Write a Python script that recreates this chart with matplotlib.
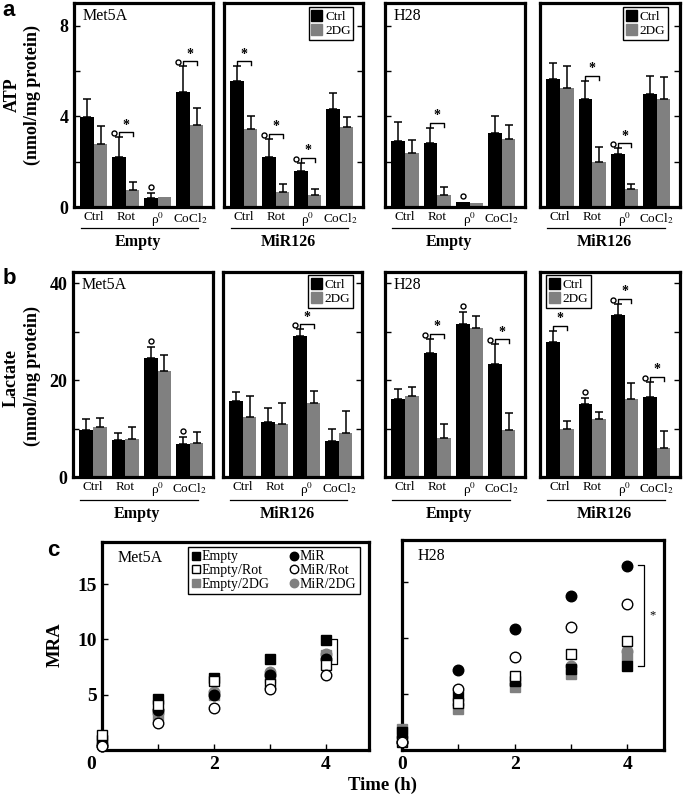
import numpy as np
import matplotlib
matplotlib.use("Agg")
import matplotlib.pyplot as plt
from matplotlib.patches import Patch
from matplotlib.lines import Line2D
from matplotlib.transforms import ScaledTranslation

plt.rcParams['font.family'] = ['Liberation Serif', 'DejaVu Serif']
plt.rcParams['mathtext.fontset'] = 'stix'

# ---------------- data ----------------
categories = ['Ctrl', 'Rot', 'ρ$^{0}$', 'CoCl$_2$']
groups = ['Empty', 'MiR126', 'Empty', 'MiR126']
cells = ['Met5A', '', 'H28', '']

# ATP (nmol/mg protein)
atp_met_empty_ctrl = [3.95, 2.22, 0.38, 5.07]
atp_met_empty_ctrl_err = [0.80, 0.85, 0.22, 1.13]
atp_met_empty_2dg = [2.76, 0.73, 0.42, 3.60]
atp_met_empty_2dg_err = [0.81, 0.37, 0.0, 0.78]
atp_met_mir_ctrl = [5.54, 2.22, 1.60, 4.34]
atp_met_mir_ctrl_err = [0.66, 0.80, 0.36, 0.70]
atp_met_mir_2dg = [3.42, 0.66, 0.53, 3.55]
atp_met_mir_2dg_err = [0.58, 0.36, 0.26, 0.40]
atp_h28_empty_ctrl = [2.92, 2.84, 0.22, 3.25]
atp_h28_empty_ctrl_err = [0.81, 0.65, 0.0, 0.77]
atp_h28_empty_2dg = [2.38, 0.53, 0.16, 2.98]
atp_h28_empty_2dg_err = [0.57, 0.35, 0.0, 0.62]
atp_h28_mir_ctrl = [5.66, 4.75, 2.34, 4.97]
atp_h28_mir_ctrl_err = [0.71, 0.81, 0.25, 0.79]
atp_h28_mir_2dg = [5.25, 1.97, 0.79, 4.75]
atp_h28_mir_2dg_err = [0.95, 0.69, 0.23, 0.98]

# Lactate (nmol/mg protein)
lac_met_empty_ctrl = [9.8, 7.6, 24.5, 6.9]
lac_met_empty_ctrl_err = [2.1, 1.4, 2.4, 1.4]
lac_met_empty_2dg = [10.3, 7.9, 21.9, 7.1]
lac_met_empty_2dg_err = [1.9, 2.4, 3.3, 2.1]
lac_met_mir_ctrl = [15.7, 11.4, 29.0, 7.4]
lac_met_mir_ctrl_err = [1.9, 2.9, 1.5, 2.6]
lac_met_mir_2dg = [12.3, 11.0, 15.2, 9.0]
lac_met_mir_2dg_err = [4.5, 4.2, 2.6, 4.7]
lac_h28_empty_ctrl = [16.1, 25.5, 31.6, 23.4]
lac_h28_empty_ctrl_err = [2.0, 3.0, 2.5, 4.0]
lac_h28_empty_2dg = [16.8, 8.1, 30.8, 9.7]
lac_h28_empty_2dg_err = [1.7, 2.8, 2.4, 3.5]
lac_h28_mir_ctrl = [27.9, 15.0, 33.4, 16.6]
lac_h28_mir_ctrl_err = [2.3, 1.2, 2.3, 3.1]
lac_h28_mir_2dg = [9.9, 11.9, 16.1, 5.9]
lac_h28_mir_2dg_err = [1.7, 1.6, 3.2, 3.5]

# significance marks: (category index, kind) o=circle, b=bracket+star
atp_sig = [[(1, 'ob'), (2, 'o'), (3, 'ob')],
           [(0, 'b'), (1, 'ob'), (2, 'ob')],
           [(1, 'b'), (2, 'o')],
           [(1, 'b'), (2, 'ob')]]
lac_sig = [[(2, 'o'), (3, 'o')],
           [(2, 'ob')],
           [(1, 'ob'), (2, 'o'), (3, 'ob')],
           [(0, 'b'), (1, 'o'), (2, 'ob'), (3, 'ob')]]

# MRA time course
time_h = [0, 1, 2, 3, 4]
mra_labels = ['Empty', 'Empty/Rot', 'Empty/2DG', 'MiR', 'MiR/Rot', 'MiR/2DG']
met_empty = [0.9, 4.6, 6.5, 8.2, 9.9]
met_empty_rot = [1.35, 4.1, 6.2, 6.0, 7.65]
met_empty_2dg = [0.9, 3.1, 5.0, 6.5, 8.55]
met_mir = [0.4, 3.6, 4.95, 6.75, 8.25]
met_mir_rot = [0.4, 2.45, 3.8, 5.55, 6.75]
met_mir_2dg = [0.5, 3.3, 5.2, 7.05, 8.7]
h28_empty = [1.6, 4.85, 6.2, 7.25, 7.55]
h28_empty_rot = [0.75, 4.25, 6.65, 8.6, 9.8]
h28_empty_2dg = [1.9, 3.65, 5.6, 6.8, 8.45]
h28_mir = [0.75, 7.2, 10.8, 13.75, 16.5]
h28_mir_rot = [0.7, 5.45, 8.35, 11.05, 13.05]
h28_mir_2dg = [1.2, 4.1, 5.9, 7.5, 8.9]

# ---------------- layout ----------------
W, H = 683, 796
fig = plt.figure(figsize=(W / 100, H / 100), dpi=100)
GRAY = '#808080'
SPW = 2.3


def ax_at(x0, y0, x1, y1):
    return fig.add_axes([x0 / W, 1 - y1 / H, (x1 - x0) / W, (y1 - y0) / H])


def ftext(x, y, s, **kw):
    fig.text(x / W, 1 - y / H, s, **kw)


def fline(x0, x1, y):
    fig.add_artist(Line2D([x0 / W, x1 / W], [1 - y / H, 1 - y / H],
                          transform=fig.transFigure, color='black', lw=0.9))


def style_box(ax):
    for s in ax.spines.values():
        s.set_linewidth(SPW)


XLIM_BAR = (-0.62, 3.72)


def bar_box(box, ctrl, ctrl_e, dg, dg_e, ylim, yt, ylab, side, show_labels,
            cell, legend, sig, group, grp_y):
    ax = ax_at(*box)
    x0p, y0p, x1p, y1p = box
    ypx = (ylim[1] - ylim[0]) / (y1p - y0p)      # data units per pixel (y)
    xpx = (XLIM_BAR[1] - XLIM_BAR[0]) / (x1p - x0p)
    x = np.arange(4)
    w = 0.42
    ctrl = np.array(ctrl); dg = np.array(dg)
    ctrl_e = np.array(ctrl_e); dg_e = np.array(dg_e)
    ax.bar(x - w / 2, ctrl, w, color='black', zorder=2)
    ax.bar(x + w / 2, dg, w, color=GRAY, zorder=2)
    for xs, v, e in [(x - w / 2, ctrl, ctrl_e), (x + w / 2, dg, dg_e)]:
        m = e > 0
        ax.errorbar(xs[m], v[m], yerr=[np.zeros(m.sum()), e[m]], fmt='none',
                    ecolor='black', elinewidth=1.1, capsize=3, capthick=1.1,
                    zorder=3)
    ax.set_xlim(*XLIM_BAR)
    ax.set_ylim(*ylim)
    ax.set_xticks(x)
    ax.set_xticklabels(categories, fontsize=9.5)
    ax.tick_params(axis='x', length=0, pad=3)
    ax.set_yticks(yt)
    if side == 'left':
        ax.tick_params(axis='y', direction='in', length=4, width=1, pad=4,
                       left=True, right=False)
    else:
        ax.tick_params(axis='y', direction='in', length=4, width=1,
                       left=False, right=True)
    if show_labels:
        ax.set_yticklabels(ylab, fontsize=13, fontweight='bold')
    else:
        ax.tick_params(axis='y', labelleft=False, labelright=False)
    style_box(ax)
    if cell:
        ax.text(0.06, 0.975, cell, transform=ax.transAxes, ha='left',
                va='top', fontsize=11.5)
    if legend is not None:
        loc, anchor = legend
        lg = ax.legend([Patch(color='black'), Patch(color=GRAY)],
                       ['Ctrl', '2DG'], loc=loc, bbox_to_anchor=anchor,
                       fontsize=9.5, handlelength=0.85, handleheight=0.9,
                       handletextpad=0.2, borderpad=0.2, labelspacing=0.1,
                       borderaxespad=0, fancybox=False, framealpha=1,
                       edgecolor='black')
        lg.get_frame().set_linewidth(1.0)
    # significance marks
    for i, kind in sig:
        tb = ctrl[i] + ctrl_e[i]
        tg = dg[i] + dg_e[i]
        xb, xg = i - w / 2, i + w / 2
        if 'b' in kind:
            yb = max(tb, tg) + 5 * ypx
            yl = yb - 4 * ypx
            ax.plot([xb, xb, xg, xg], [yl, yb, yb, yl], color='black',
                    lw=1.0, zorder=4, clip_on=False)
            ax.text((xb + xg) / 2, yb + 0.5 * ypx, '*', ha='center',
                    va='bottom', fontsize=10, fontweight='bold')
            if 'o' in kind:
                ax.plot([xb - 5 * xpx], [yb - 1 * ypx], 'o', ms=3.6,
                        mfc='white', mec='black', mew=1.0, clip_on=False,
                        zorder=5)
        else:
            ax.plot([xb], [tb + 6 * ypx], 'o', ms=3.6, mfc='white',
                    mec='black', mew=1.0, clip_on=False, zorder=5)
    # group underline and label
    bw = x1p - x0p
    fline(x0p + 0.05 * bw, x0p + 0.89 * bw, grp_y)
    ftext(x0p + 0.46 * bw, grp_y + 14, group, ha='center', va='center',
          fontsize=11.5, fontweight='bold')
    return ax


boxes_a = [(74, 3, 213, 207), (224, 3, 363, 207), (385, 3, 525, 207),
           (540, 3, 680, 207)]
boxes_b = [(73, 272, 213, 477), (223, 272, 362, 477), (385, 272, 525, 477),
           (540, 272, 680, 477)]

atp_data = [
    (atp_met_empty_ctrl, atp_met_empty_ctrl_err, atp_met_empty_2dg, atp_met_empty_2dg_err),
    (atp_met_mir_ctrl, atp_met_mir_ctrl_err, atp_met_mir_2dg, atp_met_mir_2dg_err),
    (atp_h28_empty_ctrl, atp_h28_empty_ctrl_err, atp_h28_empty_2dg, atp_h28_empty_2dg_err),
    (atp_h28_mir_ctrl, atp_h28_mir_ctrl_err, atp_h28_mir_2dg, atp_h28_mir_2dg_err),
]
lac_data = [
    (lac_met_empty_ctrl, lac_met_empty_ctrl_err, lac_met_empty_2dg, lac_met_empty_2dg_err),
    (lac_met_mir_ctrl, lac_met_mir_ctrl_err, lac_met_mir_2dg, lac_met_mir_2dg_err),
    (lac_h28_empty_ctrl, lac_h28_empty_ctrl_err, lac_h28_empty_2dg, lac_h28_empty_2dg_err),
    (lac_h28_mir_ctrl, lac_h28_mir_ctrl_err, lac_h28_mir_2dg, lac_h28_mir_2dg_err),
]
sides = ['left', 'right', 'left', 'right']
leg_a = [None, ('upper right', (0.93, 0.98)), None, ('upper right', (0.915, 0.98))]
leg_b = [None, ('upper right', (0.935, 0.985)), None, ('upper left', (0.043, 0.985))]

for k in range(4):
    c, ce, d, de = atp_data[k]
    bar_box(boxes_a[k], c, ce, d, de, (0, 9), [0, 2, 4, 6, 8],
            ['0', '', '4', '', '8'], sides[k], k == 0, cells[k], leg_a[k],
            atp_sig[k], groups[k], 228)
    c, ce, d, de = lac_data[k]
    bar_box(boxes_b[k], c, ce, d, de, (0, 42.3), [0, 10, 20, 30, 40],
            ['0', '', '20', '', '40'], sides[k], k == 0, cells[k], leg_b[k],
            lac_sig[k], groups[k], 500)

# y labels and panel letters
ftext(12, 95, 'ATP', rotation=90, ha='center', va='center', fontsize=13,
      fontweight='bold')
ftext(32, 95, '(nmol/mg protein)', rotation=90, ha='center', va='center',
      fontsize=13, fontweight='bold')
ftext(11, 378, 'Lactate', rotation=90, ha='center', va='center', fontsize=13,
      fontweight='bold')
ftext(32, 376, '(nmol/mg protein)', rotation=90, ha='center', va='center',
      fontsize=13, fontweight='bold')
for s, x, y in [('a', 9, 10), ('b', 9, 278), ('c', 53, 551)]:
    ftext(x, y, s, ha='center', va='center', fontsize=16, fontweight='bold',
          family='Liberation Sans')

# ---------------- panel c ----------------
mstyles = [
    dict(marker='s', mfc='black', mec='black'),
    dict(marker='s', mfc='white', mec='black'),
    dict(marker='s', mfc=GRAY, mec=GRAY),
    dict(marker='o', mfc='black', mec='black'),
    dict(marker='o', mfc='white', mec='black'),
    dict(marker='o', mfc=GRAY, mec=GRAY),
]
draw_order = [2, 5, 0, 3, 1, 4]


def mra_box(box, series, cell, xmax, ylabels, bracket, shift0):
    ax = ax_at(*box)
    handles = [None] * 6
    for z, j in enumerate(draw_order):
        h, = ax.plot(time_h, series[j], ls='none', ms=7.6, mew=1.0,
                     clip_on=False, zorder=5 + z, **mstyles[j])
        handles[j] = h
    ax.set_xlim(0, xmax)
    ax.set_ylim(0, 18.8)
    ax.set_xticks([0, 1, 2, 3, 4])
    ax.set_xticklabels(['0', '', '2', '', '4'], fontsize=14,
                       fontweight='bold')
    ax.set_yticks([5, 10, 15])
    if ylabels:
        ax.set_yticklabels(['5', '10', '15'], fontsize=14, fontweight='bold')
    else:
        ax.tick_params(axis='y', labelleft=False)
    ax.tick_params(direction='in', length=4, width=1, pad=4)
    if shift0:
        lab = ax.get_xticklabels()[0]
        lab.set_transform(lab.get_transform() +
                          ScaledTranslation(-shift0 / 100, 0,
                                            fig.dpi_scale_trans))
    style_box(ax)
    ax.text(0.06, 0.96, cell, transform=ax.transAxes, ha='left', va='top',
            fontsize=11.5)
    bx, btop, bbot, star = bracket
    ax.plot([bx - 0.12, bx, bx, bx - 0.12], [btop, btop, bbot, bbot],
            color='black', lw=0.9, zorder=3)
    if star:
        ax.text(bx + 0.15, (btop + bbot) / 2, '*', ha='center', va='center',
                fontsize=9)
    return ax, handles


ax_c1, hs = mra_box((102, 542, 369, 750),
                    [met_empty, met_empty_rot, met_empty_2dg, met_mir,
                     met_mir_rot, met_mir_2dg], 'Met5A', 4.77, True,
                    (4.2, 10.0, 7.8, False), 11)
lg = ax_c1.legend(hs, mra_labels, ncol=2, loc='upper left',
                  bbox_to_anchor=(0.322, 0.976), fontsize=10, markerscale=0.8,
                  handlelength=0.7, handletextpad=0.05, columnspacing=1.4,
                  labelspacing=0.05, borderpad=0.25, borderaxespad=0,
                  fancybox=False, framealpha=1, edgecolor='black')
lg.get_frame().set_linewidth(1.0)
mra_box((402, 540, 664, 750),
        [h28_empty, h28_empty_rot, h28_empty_2dg, h28_mir, h28_mir_rot,
         h28_mir_2dg], 'H28', 4.65, False, (4.3, 16.6, 7.55, True), 0)

ftext(55, 645, 'MRA', rotation=90, ha='center', va='center', fontsize=13.5,
      fontweight='bold')
ftext(383, 785, 'Time (h)', ha='center', va='center', fontsize=13.5,
      fontweight='bold')

fig.savefig('out.png', dpi=100, facecolor='white')
